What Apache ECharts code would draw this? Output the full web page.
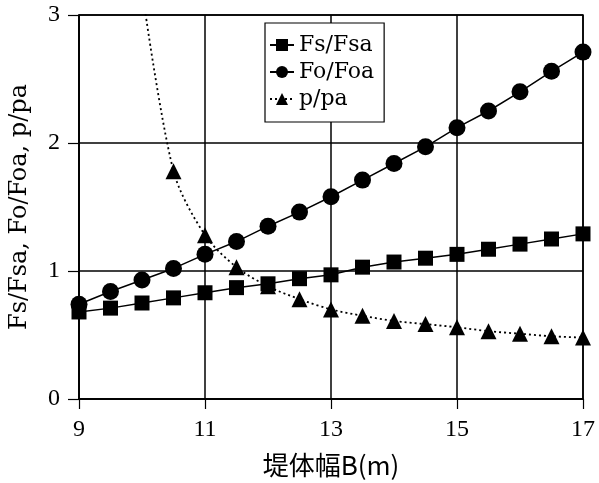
<!DOCTYPE html>
<html><head><meta charset="utf-8">
<script src="https://cdn.jsdelivr.net/npm/echarts@6/dist/echarts.min.js"></script>
<style>html,body{margin:0;padding:0;background:#fff}#c{width:599px;height:483px}</style>
</head><body><div id="c"></div>
<script>
var widthB = [9, 9.5, 10, 10.5, 11, 11.5, 12, 12.5, 13, 13.5, 14, 14.5, 15, 15.5, 16, 16.5, 17];
var fsRatio = [0.68, 0.71, 0.75, 0.79, 0.83, 0.87, 0.90, 0.94, 0.97, 1.03, 1.07, 1.10, 1.13, 1.17, 1.21, 1.25, 1.29];
var foRatio = [0.74, 0.84, 0.93, 1.02, 1.13, 1.23, 1.35, 1.46, 1.58, 1.71, 1.84, 1.97, 2.12, 2.25, 2.40, 2.56, 2.71];
var pWidth = [10, 10.5, 11, 11.5, 12, 12.5, 13, 13.5, 14, 14.5, 15, 15.5, 16, 16.5, 17];
var pRatio = [3.2, 1.78, 1.28, 1.03, 0.88, 0.78, 0.70, 0.65, 0.61, 0.585, 0.56, 0.53, 0.51, 0.49, 0.48];
var xTicks = [9, 11, 13, 15, 17];
var yTicks = [0, 1, 2, 3];
var names = ['Fs/Fsa', 'Fo/Foa', 'p/pa'];

function pairs(xs, ys) { return xs.map(function (x, i) { return [x, ys[i]]; }); }
var serif = '"Liberation Serif","DejaVu Serif",serif';
var wideSerif = '"DejaVu Serif",serif';
var chart = echarts.init(document.getElementById('c'));
chart.setOption({
  animation: false,
  backgroundColor: '#fff',
  grid: { left: 78, right: 16, top: 15, bottom: 83, show: true, borderColor: '#000', borderWidth: 1.5 },
  legend: {
    left: 265, top: 23, width: 129,
    orient: 'vertical', itemGap: 5, padding: [11, 10, 12, 4],
    backgroundColor: '#fff', borderColor: '#000', borderWidth: 1.2,
    itemWidth: 24, itemHeight: 15,
    textStyle: { fontFamily: wideSerif, fontSize: 22, color: '#000' },
    data: names
  },
  xAxis: {
    type: 'value', min: xTicks[0], max: xTicks[xTicks.length - 1], interval: 2,
    name: '堤体幅B(m)', nameLocation: 'middle', nameGap: 53,
    nameTextStyle: { fontFamily: '"Noto Sans CJK JP",sans-serif', fontSize: 26, color: '#000' },
    axisLine: { lineStyle: { color: '#000', width: 1.5 } },
    axisTick: { show: true, inside: false, length: 10, lineStyle: { color: '#000', width: 1.2 } },
    axisLabel: { fontFamily: serif, fontSize: 24, color: '#000', margin: 19 },
    splitLine: { show: true, lineStyle: { color: '#000', width: 1.5 } }
  },
  yAxis: {
    type: 'value', min: yTicks[0], max: yTicks[yTicks.length - 1], interval: 1,
    name: 'Fs/Fsa, Fo/Foa, p/pa', nameLocation: 'middle', nameGap: 47, nameRotate: 90,
    nameTextStyle: { fontFamily: wideSerif, fontSize: 24, color: '#000' },
    axisLine: { lineStyle: { color: '#000', width: 1.5 } },
    axisTick: { show: true, inside: false, length: 11, lineStyle: { color: '#000', width: 1.2 } },
    axisLabel: { fontFamily: serif, fontSize: 24, color: '#000', margin: 19 },
    splitLine: { show: true, lineStyle: { color: '#000', width: 1.5 } }
  },
  series: [
    { name: names[0], type: 'line', data: pairs(widthB, fsRatio), symbol: 'rect', symbolSize: 15,
      itemStyle: { color: '#000' }, lineStyle: { color: '#000', width: 1.5 }, clip: true },
    { name: names[1], type: 'line', data: pairs(widthB, foRatio), symbol: 'circle', symbolSize: 17,
      itemStyle: { color: '#000' }, lineStyle: { color: '#000', width: 1.5 }, clip: true },
    { name: names[2], type: 'line', data: pairs(pWidth, pRatio), symbol: 'triangle', symbolSize: 16, smooth: 0.3,
      itemStyle: { color: '#000' }, lineStyle: { color: '#000', width: 1.8, type: [2, 3] }, clip: true }
  ]
});
</script></body></html>
